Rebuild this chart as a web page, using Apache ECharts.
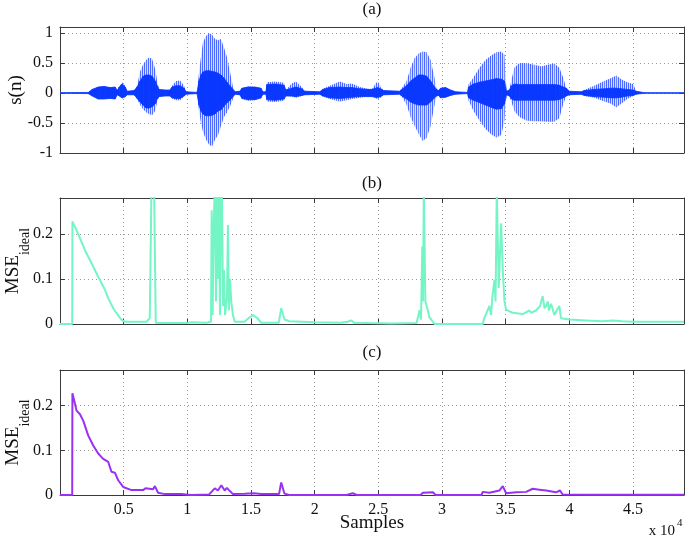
<!DOCTYPE html>
<html><head><meta charset="utf-8">
<script src="https://cdn.jsdelivr.net/npm/echarts@6/dist/echarts.min.js"></script>
<style>html,body{margin:0;padding:0;background:#fff}#c{width:685px;height:538px}</style>
</head><body><div id="c"></div>
<script>
// ---------- (a) speech signal s(n): outer envelope and dense core, sample index ----------
const waveX = [0,2220,2530,3000,3470,3940,4330,4490,4650,4880,5120,5270,5820,6060,6290,6530,6760,7000,7230,7470,7630,7780,8250,8640,8800,9110,9430,9740,9900,10760,10920,11070,11230,11470,11700,11940,12170,12410,12640,12880,13110,13350,13580,13740,14130,14290,14760,15310,15780,15930,16170,16250,16870,17580,17740,18200,18520,18990,19220,20400,20640,21180,21970,22520,22910,23540,24160,24480,24790,24950,25180,25420,26670,26900,27220,27530,27850,28160,28470,28790,29100,29410,29570,29730,29880,30280,30670,31060,32000,32080,32470,32940,33410,33880,34270,34660,34900,35060,35290,35450,35680,36070,36620,37250,37800,38270,38820,39210,39520,39760,39990,40930,41170,41950,42740,43280,43680,44070,44540,45010,45240,45870,49000];
const waveUp = [0.005,0.01,0.06,0.1,0.11,0.09,0.1,0.04,0.1,0.18,0.12,0.03,0.04,0.12,0.36,0.48,0.55,0.59,0.57,0.4,0.2,0.06,0.05,0.05,0.12,0.2,0.21,0.12,0.02,0.01,0.35,0.6,0.85,0.95,1.0,0.97,0.9,0.88,0.9,0.75,0.6,0.35,0.1,0.02,0.03,0.08,0.11,0.1,0.08,0.02,0.02,0.18,0.19,0.17,0.05,0.16,0.19,0.1,0.03,0.02,0.07,0.12,0.19,0.15,0.16,0.1,0.07,0.06,0.16,0.19,0.1,0.04,0.03,0.1,0.2,0.42,0.58,0.66,0.69,0.68,0.55,0.25,0.06,0.04,0.08,0.09,0.05,0.02,0.01,0.14,0.26,0.42,0.55,0.63,0.68,0.69,0.63,0.03,0.05,0.22,0.42,0.5,0.5,0.47,0.44,0.47,0.49,0.42,0.25,0.08,0.03,0.02,0.05,0.12,0.2,0.25,0.29,0.23,0.18,0.15,0.03,0.005,0.005];
const waveLo = [-0.005,-0.01,-0.05,-0.1,-0.1,-0.09,-0.1,-0.03,-0.05,-0.09,-0.07,-0.03,-0.03,-0.1,-0.2,-0.27,-0.32,-0.35,-0.37,-0.3,-0.15,-0.06,-0.05,-0.05,-0.09,-0.12,-0.12,-0.06,-0.02,-0.01,-0.3,-0.5,-0.65,-0.78,-0.86,-0.89,-0.78,-0.7,-0.55,-0.4,-0.32,-0.22,-0.1,-0.02,-0.03,-0.1,-0.13,-0.12,-0.09,-0.02,-0.02,-0.14,-0.15,-0.13,-0.05,-0.06,-0.08,-0.05,-0.03,-0.02,-0.06,-0.1,-0.14,-0.12,-0.1,-0.08,-0.06,-0.06,-0.09,-0.1,-0.08,-0.03,-0.02,-0.08,-0.2,-0.4,-0.55,-0.68,-0.8,-0.75,-0.55,-0.2,-0.05,-0.04,-0.08,-0.07,-0.04,-0.02,-0.01,-0.12,-0.3,-0.46,-0.6,-0.69,-0.74,-0.7,-0.45,-0.03,-0.05,-0.15,-0.3,-0.4,-0.46,-0.47,-0.47,-0.48,-0.48,-0.42,-0.18,-0.05,-0.03,-0.02,-0.05,-0.08,-0.14,-0.18,-0.24,-0.18,-0.1,-0.05,-0.02,-0.005,-0.005];
const coreUp = [0.005,0.01,0.06,0.1,0.11,0.09,0.1,0.04,0.1,0.15,0.1,0.03,0.04,0.1,0.2,0.28,0.3,0.3,0.28,0.2,0.12,0.06,0.05,0.05,0.1,0.12,0.12,0.08,0.02,0.01,0.2,0.3,0.35,0.37,0.37,0.36,0.35,0.33,0.3,0.25,0.18,0.12,0.06,0.02,0.03,0.08,0.1,0.1,0.08,0.02,0.02,0.14,0.15,0.13,0.05,0.08,0.1,0.07,0.03,0.02,0.06,0.09,0.1,0.09,0.09,0.07,0.06,0.06,0.08,0.09,0.07,0.04,0.03,0.07,0.12,0.2,0.25,0.3,0.3,0.28,0.2,0.1,0.06,0.04,0.08,0.09,0.05,0.02,0.01,0.1,0.15,0.18,0.2,0.22,0.24,0.23,0.2,0.03,0.05,0.12,0.15,0.14,0.14,0.14,0.14,0.14,0.14,0.13,0.1,0.08,0.03,0.02,0.04,0.06,0.07,0.08,0.08,0.07,0.06,0.05,0.03,0.005,0.005];
const coreLo = [-0.005,-0.01,-0.05,-0.1,-0.1,-0.09,-0.1,-0.03,-0.05,-0.08,-0.06,-0.03,-0.03,-0.09,-0.15,-0.2,-0.25,-0.25,-0.23,-0.18,-0.1,-0.06,-0.05,-0.05,-0.08,-0.09,-0.09,-0.05,-0.02,-0.01,-0.2,-0.3,-0.35,-0.38,-0.38,-0.37,-0.35,-0.3,-0.28,-0.22,-0.16,-0.12,-0.06,-0.02,-0.03,-0.09,-0.11,-0.11,-0.08,-0.02,-0.02,-0.11,-0.12,-0.1,-0.05,-0.05,-0.06,-0.04,-0.03,-0.02,-0.05,-0.08,-0.09,-0.08,-0.07,-0.06,-0.06,-0.06,-0.07,-0.07,-0.06,-0.03,-0.02,-0.06,-0.1,-0.15,-0.18,-0.2,-0.2,-0.2,-0.15,-0.08,-0.05,-0.04,-0.08,-0.07,-0.04,-0.02,-0.01,-0.08,-0.12,-0.16,-0.2,-0.24,-0.27,-0.26,-0.18,-0.03,-0.05,-0.1,-0.12,-0.12,-0.12,-0.12,-0.12,-0.12,-0.12,-0.11,-0.08,-0.05,-0.03,-0.02,-0.04,-0.06,-0.07,-0.08,-0.08,-0.07,-0.05,-0.04,-0.02,-0.005,-0.005];

// ---------- (b) MSE_ideal ----------
const bX = [0,960,975,1430,1960,2480,3000,3530,3790,3900,3940,4180,4440,4830,5090,6790,7050,7180,7390,7520,7700,10000,10300,11500,11860,11910,11990,12050,12150,12250,12320,12400,12480,12560,12640,12720,12800,12880,12960,13110,13190,13260,13350,13450,13580,13720,14500,14760,15150,15540,15780,17180,17370,17630,18000,20000,22000,22600,22850,23100,24300,26000,28000,28240,28350,28450,28500,28570,28650,28690,28790,28890,29000,29150,29410,33200,33300,33500,33720,33850,33950,34120,34200,34300,34380,34450,34640,34770,34900,35030,35530,36330,36860,37000,37380,37700,37900,38050,38170,38300,38400,38560,38820,39000,39210,39340,40000,41300,42600,43390,44170,44950,49000];
const bY = [0,0,0.228,0.2,0.164,0.135,0.105,0.076,0.057,0.055,0.053,0.035,0.024,0.009,0.005,0.005,0.013,0.3,0.3,0.003,0.002,0.002,0.004,0.003,0.005,0.253,0.02,0.2,0.3,0.05,0.3,0.1,0.3,0.02,0.3,0.28,0.04,0.12,0.02,0.06,0.22,0.03,0.1,0.05,0.02,0.005,0.005,0.012,0.02,0.012,0.003,0.003,0.035,0.01,0.006,0.004,0.003,0.005,0.008,0.003,0.002,0.001,0.002,0.031,0.01,0.172,0.05,0.3,0.3,0.05,0.04,0.03,0.015,0.01,0,0,0.012,0.025,0.04,0.02,0.06,0.098,0.05,0.3,0.3,0.08,0.224,0.12,0.05,0.032,0.025,0.022,0.03,0.025,0.03,0.04,0.062,0.035,0.04,0.05,0.03,0.045,0.02,0.03,0.04,0.013,0.01,0.008,0.006,0.008,0.006,0.005,0.005];

// ---------- (c) MSE_ideal ----------
const cX = [0,960,975,1180,1300,1570,1830,2220,2610,3000,3390,3790,4040,4310,4570,4960,5610,6530,6710,7310,7450,7700,8230,9500,10310,11700,12150,12400,12670,12930,13100,13250,13580,14500,15200,15800,17200,17370,17630,18000,22500,22990,23300,28300,28500,29280,29500,33100,33200,33720,34500,34770,35030,35820,36600,37120,37640,38170,38950,39260,39470,42000,49000];
const cY = [0,0,0.228,0.204,0.189,0.181,0.166,0.133,0.111,0.093,0.081,0.074,0.052,0.05,0.033,0.018,0.011,0.011,0.015,0.013,0.02,0.005,0.002,0.002,0,0.001,0.015,0.01,0.022,0.01,0.016,0.018,0.002,0.003,0.004,0.002,0.002,0.028,0.003,0,0,0.004,0,0,0.005,0.006,0,0,0.007,0.005,0.01,0.02,0.004,0.006,0.007,0.014,0.012,0.01,0.006,0.01,0.001,0.0005,0.0005];

// ---------- axis ticks ----------
const xTickStep = 5000, xMin = 0, xMax = 49000;
const sTicks = {min: -1, max: 1.1, step: 0.5};
const mseTicks = {min: 0, max: 0.28, step: 0.1};

const FONT = '"Liberation Serif", "Times New Roman", serif';
const AX = '#3a3a3a';
const TXT = '#111';
const chart = echarts.init(document.getElementById('c'), null, {renderer: 'canvas'});

const grids = [
  {left: 60, right: 1, top: 27, height: 126, outerBoundsMode: 'none', containLabel: false},
  {left: 60, right: 1, top: 198, height: 126, outerBoundsMode: 'none', containLabel: false},
  {left: 60, right: 1, top: 370, height: 125, outerBoundsMode: 'none', containLabel: false}
];

function xAx(gi, pos) {
  const primary = pos === 'bottom';
  return {
    type: 'value', gridIndex: gi, position: pos, min: xMin, max: xMax, interval: xTickStep,
    axisLine: {show: true, onZero: false, lineStyle: {color: AX, width: 1}},
    axisTick: {show: true, inside: true, length: 5, lineStyle: {color: AX}},
    axisLabel: {show: primary && gi === 2, showMinLabel: false, showMaxLabel: false, margin: 7,
      formatter: v => String(Math.round(v / 1000) / 10), fontFamily: FONT, fontSize: 16, color: TXT},
    splitLine: {show: primary, lineStyle: {type: [1, 3], color: '#9a9a9a', width: 1}}
  };
}
function yAx(gi, pos, t, name) {
  const primary = pos === 'left';
  const o = {
    type: 'value', gridIndex: gi, position: pos, min: t.min, max: t.max, interval: t.step,
    axisLine: {show: true, onZero: false, lineStyle: {color: AX, width: 1}},
    axisTick: {show: true, inside: true, length: 5, lineStyle: {color: AX}},
    axisLabel: {show: primary, showMaxLabel: false, margin: 7, fontFamily: FONT, fontSize: 16, color: TXT},
    splitLine: {show: primary, lineStyle: {type: [1, 3], color: '#9a9a9a', width: 1}}
  };
  if (primary && name) Object.assign(o, name);
  return o;
}
const sName = {name: 's(n)', nameLocation: 'middle', nameGap: 34, nameRotate: 90, nameMoveOverlap: false,
  nameTextStyle: {fontFamily: FONT, fontSize: 19, color: TXT}};
const mseName = {name: '{a|MSE}{b|ideal}', nameLocation: 'middle', nameGap: 37, nameRotate: 90, nameMoveOverlap: false,
  nameTextStyle: {fontFamily: FONT, color: TXT, rich: {
    a: {fontFamily: FONT, fontSize: 19, lineHeight: 19, verticalAlign: 'top', color: TXT},
    b: {fontFamily: FONT, fontSize: 14, lineHeight: 14, padding: [14, 0, 0, 0], verticalAlign: 'top', color: TXT}
  }}};

// vertical stripe pattern that imitates the individual pitch periods of the waveform
const stripe = document.createElement('canvas');
stripe.width = 2; stripe.height = 1;
(function () {
  const g = stripe.getContext('2d');
  g.fillStyle = '#4a68ff'; g.fillRect(0, 0, 1, 1);
  g.fillStyle = '#d3dbff'; g.fillRect(1, 0, 1, 1);
})();

function envSeries(xs, ups, los, fill, stroke) {
  const data = [];
  for (let i = 0; i < xs.length - 1; i++) data.push([xs[i], ups[i], los[i], xs[i + 1], ups[i + 1], los[i + 1]]);
  return {
    type: 'custom', xAxisIndex: 0, yAxisIndex: 0, clip: true, silent: true, animation: false,
    encode: {x: [0, 3], y: [1, 2, 4, 5]},
    renderItem: (params, api) => {
      const a0 = api.coord([api.value(0), api.value(1)]);
      const a1 = api.coord([api.value(3), api.value(4)]);
      const b1 = api.coord([api.value(3), api.value(5)]);
      const b0 = api.coord([api.value(0), api.value(2)]);
      return {type: 'polygon', shape: {points: [a0, a1, b1, b0]},
        style: stroke ? {fill: fill, stroke: stroke, lineWidth: 0.8} : {fill: fill}};
    },
    data
  };
}
const zip = (xs, ys) => xs.map((x, i) => [x, ys[i]]);

const txt = (x, y, text, size, align) => ({type: 'text', x: x, y: y, silent: true,
  style: {text: text, fontFamily: FONT, fontSize: size, fill: TXT, align: align || 'center', verticalAlign: 'middle'}});

chart.setOption({
  animation: false,
  backgroundColor: '#fff',
  grid: grids,
  xAxis: [xAx(0, 'bottom'), xAx(0, 'top'), xAx(1, 'bottom'), xAx(1, 'top'), xAx(2, 'bottom'), xAx(2, 'top')],
  yAxis: [yAx(0, 'left', sTicks, sName), yAx(0, 'right', sTicks), yAx(1, 'left', mseTicks, mseName), yAx(1, 'right', mseTicks),
          yAx(2, 'left', mseTicks, mseName), yAx(2, 'right', mseTicks)],
  series: [
    envSeries(waveX, waveUp, waveLo, {image: stripe, repeat: 'repeat'}, null),
    envSeries(waveX, coreUp, coreLo, '#0a38ff', '#0a38ff'),
    {type: 'line', xAxisIndex: 2, yAxisIndex: 2, data: zip(bX, bY), showSymbol: false, clip: true,
      lineStyle: {color: '#74f5c6', width: 2}, itemStyle: {color: '#74f5c6'}},
    {type: 'line', xAxisIndex: 4, yAxisIndex: 4, data: zip(cX, cY), showSymbol: false, clip: true,
      lineStyle: {color: '#9b30f5', width: 2}, itemStyle: {color: '#9b30f5'}}
  ],
  graphic: [
    txt(372, 10, '(a)', 17),
    txt(372, 184, '(b)', 17),
    txt(372, 353, '(c)', 17),
    txt(372, 523, 'Samples', 19),
    txt(675, 531, 'x 10', 15, 'right'),
    txt(677, 523, '4', 11, 'left')
  ]
});
</script></body></html>
